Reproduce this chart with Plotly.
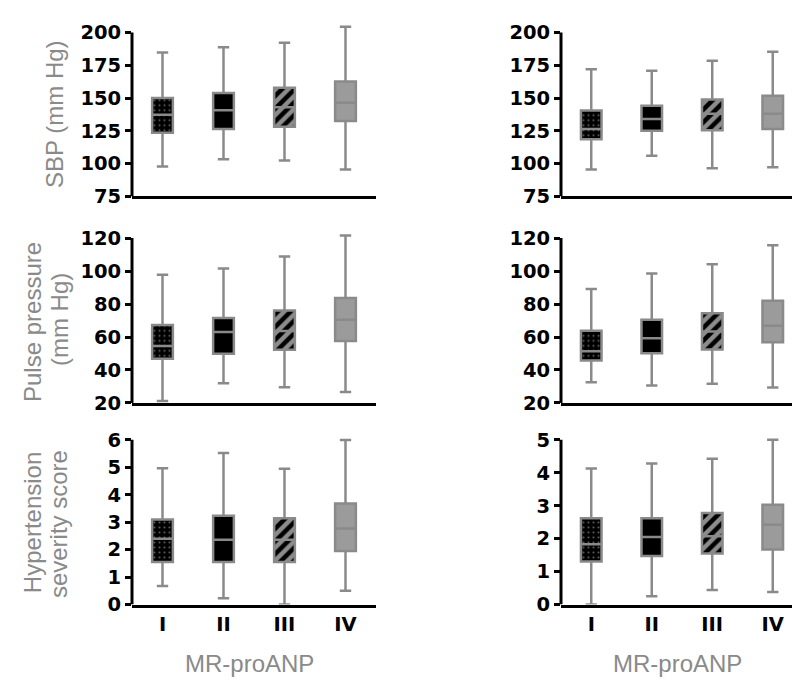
import plotly.graph_objects as go

# ---------------- data ----------------
quartiles = ["I", "II", "III", "IV"]

sbp_left_low = [97.9, 103.4, 102.4, 95.6]
sbp_left_q1 = [123.6, 126.4, 128.1, 132.6]
sbp_left_med = [137.3, 140.8, 143.0, 146.4]
sbp_left_q3 = [150.0, 153.8, 157.8, 162.6]
sbp_left_high = [184.8, 188.8, 192.3, 204.5]

sbp_right_low = [95.6, 106.0, 96.5, 97.3]
sbp_right_q1 = [118.7, 125.1, 125.4, 126.4]
sbp_right_med = [126.4, 134.1, 138.1, 138.1]
sbp_right_q3 = [140.6, 144.1, 148.9, 151.8]
sbp_right_high = [172.0, 170.8, 178.5, 185.3]

pp_left_low = [21.2, 31.9, 29.5, 26.6]
pp_left_q1 = [46.8, 49.8, 52.2, 57.6]
pp_left_med = [54.6, 63.1, 63.7, 70.5]
pp_left_q3 = [67.3, 71.5, 76.1, 83.6]
pp_left_high = [97.7, 101.5, 108.9, 121.6]

pp_right_low = [32.6, 30.6, 31.6, 29.4]
pp_right_q1 = [45.8, 50.2, 52.4, 56.8]
pp_right_med = [51.4, 59.2, 63.4, 66.8]
pp_right_q3 = [63.8, 70.4, 74.4, 82.0]
pp_right_high = [89.2, 98.6, 104.2, 115.6]

hs_left_low = [0.68, 0.23, 0.0, 0.5]
hs_left_q1 = [1.55, 1.55, 1.55, 1.95]
hs_left_med = [2.40, 2.36, 2.36, 2.77]
hs_left_q3 = [3.10, 3.23, 3.14, 3.68]
hs_left_high = [4.96, 5.52, 4.94, 5.99]

hs_right_low = [0.0, 0.25, 0.44, 0.38]
hs_right_q1 = [1.31, 1.47, 1.55, 1.67]
hs_right_med = [1.83, 2.05, 2.07, 2.42]
hs_right_q3 = [2.62, 2.62, 2.78, 3.03]
hs_right_high = [4.13, 4.28, 4.42, 5.00]

sbp_ticks = [75, 100, 125, 150, 175, 200]
pp_ticks = [20, 40, 60, 80, 100, 120]
hs_left_ticks = [0, 1, 2, 3, 4, 5, 6]
hs_right_ticks = [0, 1, 2, 3, 4, 5]

y_title_sbp = "SBP (mm Hg)"
y_title_pp = ["Pulse pressure", "(mm Hg)"]
y_title_hs = ["Hypertension", "severity score"]
x_title = "MR-proANP"

# ---------------- layout helpers ----------------
W, H = 800, 691
GRAY = "#8a8a8a"
TEXT_GRAY = "#8a8a8a"
TICK_FONT = dict(family="DejaVu Sans", size=19.5, color="black", weight="bold")
TITLE_FONT = dict(family="Liberation Sans, Arial", size=24, color=TEXT_GRAY)

panels = [
    (sbp_left_low, sbp_left_q1, sbp_left_med, sbp_left_q3, sbp_left_high, sbp_ticks),
    (sbp_right_low, sbp_right_q1, sbp_right_med, sbp_right_q3, sbp_right_high, sbp_ticks),
    (pp_left_low, pp_left_q1, pp_left_med, pp_left_q3, pp_left_high, pp_ticks),
    (pp_right_low, pp_right_q1, pp_right_med, pp_right_q3, pp_right_high, pp_ticks),
    (hs_left_low, hs_left_q1, hs_left_med, hs_left_q3, hs_left_high, hs_left_ticks),
    (hs_right_low, hs_right_q1, hs_right_med, hs_right_q3, hs_right_high, hs_right_ticks),
]

col_px = [(124, 368), (553, 795)]          # x pixel extents of plot areas
row_px = [(24, 191), (233.5, 401.5), (439, 607)]  # y pixel (top tick, bottom)
TOP_PAD = 10  # px of headroom above top tick for whiskers

BOX_W = 0.34
styles = [
    dict(kind="dots"),
    dict(kind="solid", fill="black"),
    dict(kind="stripes"),
    dict(kind="solid", fill="#9b9b9b"),
]

fig = go.Figure()
layout = dict(
    width=W, height=H, margin=dict(l=0, r=0, t=0, b=0),
    paper_bgcolor="white", plot_bgcolor="white",
    showlegend=False, boxmode="overlay", barmode="overlay",
)
shapes = []
annotations = []

for i, (low, q1, med, q3, high, ticks) in enumerate(panels):
    r, c = divmod(i, 2)
    xn = "x" if i == 0 else f"x{i+1}"
    yn = "y" if i == 0 else f"y{i+1}"
    xk = "xaxis" if i == 0 else f"xaxis{i+1}"
    yk = "yaxis" if i == 0 else f"yaxis{i+1}"

    x0p, x1p = col_px[c]
    ytop, ybot = row_px[r]
    ymin, ymax = ticks[0], ticks[-1]
    ppu = (ybot - ytop) / (ymax - ymin)
    yr_top = ymax + TOP_PAD / ppu

    layout[xk] = dict(
        domain=[x0p / W, x1p / W], anchor=yn, type="category",
        categoryorder="array", categoryarray=quartiles,
        range=[-0.5, 3.5], showline=True, linecolor="black", linewidth=3,
        ticks="", showgrid=False, zeroline=False,
        showticklabels=(r == 2), tickfont=TICK_FONT, fixedrange=True,
    )
    layout[yk] = dict(
        domain=[1 - ybot / H, 1 - (ytop - TOP_PAD) / H], anchor=xn,
        range=[ymin, yr_top], tickvals=ticks, ticks="outside",
        ticklen=6, tickwidth=3, tickcolor="black", showline=False,
        showgrid=False, zeroline=False, tickfont=TICK_FONT, fixedrange=True,
    )
    shapes.append(dict(type="line", xref=f"{xn} domain", yref=yn,
                       x0=0, x1=0, y0=ymin, y1=ymax,
                       line=dict(color="black", width=3), layer="above"))

    for k, cat in enumerate(quartiles):
        st = styles[k]
        if st["kind"] in ("dots", "stripes"):
            if st["kind"] == "dots":
                pat = dict(shape=".", bgcolor="black", fgcolor="#5a5a5a",
                           size=5, solidity=0.15, fillmode="replace")
                col = "black"
            else:
                pat = dict(shape="/", bgcolor="#8c8c8c", fgcolor="black",
                           size=9, solidity=0.5, fillmode="replace")
                col = "#8c8c8c"
            fig.add_trace(go.Bar(
                x=[cat], y=[q3[k] - q1[k]], base=[q1[k]], width=BOX_W,
                marker=dict(color=col, pattern=pat, line=dict(width=0)),
                xaxis=xn, yaxis=yn, hoverinfo="skip", showlegend=False,
            ))
            fill = "rgba(0,0,0,0)"
        else:
            fill = st["fill"]
        fig.add_trace(go.Box(
            x=[cat], q1=[q1[k]], median=[med[k]], q3=[q3[k]],
            lowerfence=[low[k]], upperfence=[high[k]],
            fillcolor=fill, line=dict(color=GRAY, width=2.5),
            whiskerwidth=0.55, width=BOX_W, boxpoints=False,
            xaxis=xn, yaxis=yn, showlegend=False,
        ))


def ann(text, xp, yp, angle=0):
    return dict(text=text, x=xp / W, y=1 - yp / H, xref="paper", yref="paper",
                xanchor="center", yanchor="middle", showarrow=False,
                textangle=angle, font=TITLE_FONT)


annotations.append(ann(y_title_sbp, 47, 107, -90))
annotations.append(ann(y_title_pp[0], 25, 319, -90))
annotations.append(ann(y_title_pp[1], 51, 317, -90))
annotations.append(ann(y_title_hs[0], 24, 524, -90))
annotations.append(ann(y_title_hs[1], 50, 525, -90))
annotations.append(ann(x_title, 241, 667))
annotations.append(ann(x_title, 669, 667))

layout["shapes"] = shapes
layout["annotations"] = annotations
fig.update_layout(**layout)

fig.write_html("out.html")
